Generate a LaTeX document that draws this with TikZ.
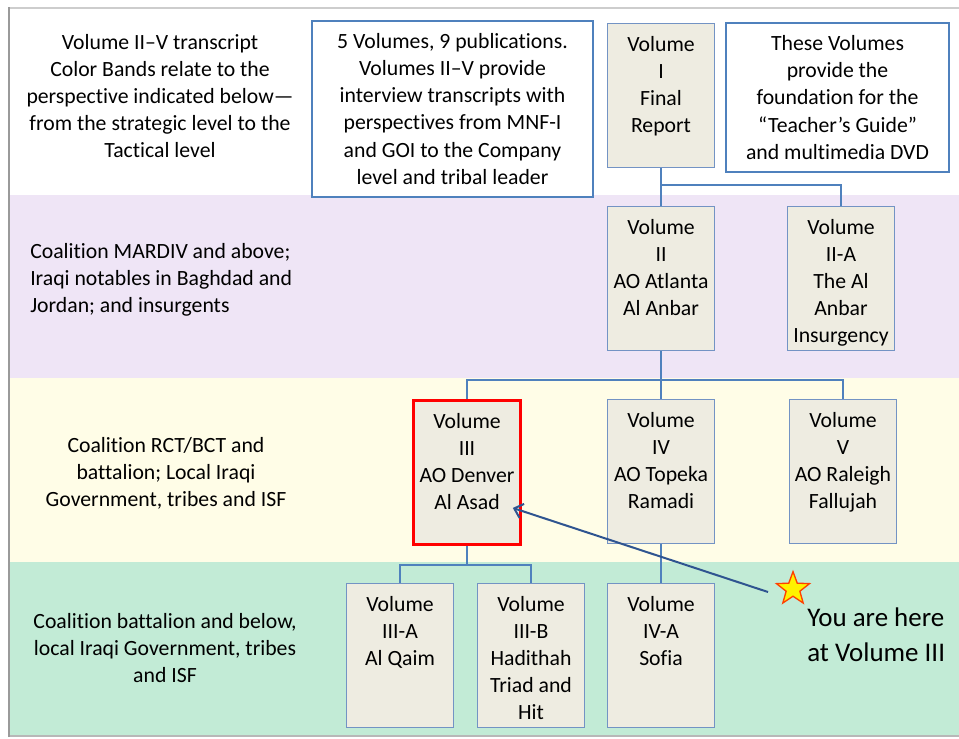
\documentclass[tikz,border=0pt]{standalone}
\usepackage{fontspec}
\setmainfont{Carlito}[Ligatures=NoCommon]
\usetikzlibrary{shapes.geometric,arrows.meta,calc}

\definecolor{bandlav}{HTML}{EFE5F6}
\definecolor{bandyel}{HTML}{FFFDE7}
\definecolor{bandgrn}{HTML}{C2EBD6}
\definecolor{boxfill}{HTML}{EEECE1}
\definecolor{boxline}{HTML}{7393C4}
\definecolor{noteline}{HTML}{4F81BD}
\definecolor{linkblue}{HTML}{4F81BD}
\definecolor{arrowblue}{HTML}{2F5490}
\definecolor{starred}{HTML}{FF4000}
\definecolor{framegray}{HTML}{9A9A9A}

% text of a volume box, starting at its top
\newcommand{\voltext}[1]{\parbox[t][108pt][t]{80pt}{\centering\rule{0pt}{21pt}#1}}

\begin{document}
\begin{tikzpicture}[x=0.75pt,y=-0.75pt,
  every node/.style={font=\fontsize{16.3pt}{20.3pt}\selectfont},
  vol/.style={draw=boxline,line width=1pt,fill=boxfill,inner sep=0pt,anchor=north},
  here/.style={vol,draw=red,line width=2.2pt},
  note/.style={draw=noteline,line width=1.6pt,fill=white,align=center,inner sep=0pt},
  band/.style={align=center,inner sep=0pt},
  link/.style={draw=linkblue,line width=1.5pt},
  pointer/.style={draw=arrowblue,line width=1.5pt,-{Straight Barb[length=6pt,width=11pt]}}]
\useasboundingbox (0,0) rectangle (959,738);
%\draw[help lines,step=50] (0,0) grid (959,738);

% colour bands
\fill[white] (9,8) rectangle (959,195);
\fill[bandlav] (9,195) rectangle (959,378);
\fill[bandyel] (9,378) rectangle (959,562);
\fill[bandgrn] (9,562) rectangle (959,736);
\draw[framegray!50,line width=0.8pt] (9,8) -- (959,8);
\draw[framegray!70,line width=0.8pt] (9,736) -- (959,736);
\draw[framegray,line width=1.8pt] (9,737) -- (9,7);

% key texts
\node[band] (key) at (160,96) {Volume II--V transcript\\Color Bands relate to the\\perspective indicated below---\\from the strategic level to the\\Tactical level};
\node[band,align=left,anchor=west] (lvl2) at (30,280) {Coalition MARDIV and above;\\Iraqi notables in Baghdad and\\Jordan; and insurgents};
\node[band] (lvl3) at (166,473) {Coalition RCT/BCT and\\battalion; Local Iraqi\\Government, tribes and ISF};
\node[band] (lvl4) at (165,648) {Coalition battalion and below,\\local Iraqi Government, tribes\\and ISF};

\node[note,minimum width=210.75pt,minimum height=132pt] (scope) at (452.5,109) {5 Volumes, 9 publications.\\Volumes II--V provide\\interview transcripts with\\perspectives from MNF-I\\and GOI to the Company\\level and tribal leader};
\node[note,minimum width=167pt,minimum height=111.75pt] (guide) at (837.5,97.5) {These Volumes\\provide the\\foundation for the\\``Teacher's Guide''\\and multimedia DVD};

% volumes
\node[vol] (vol1) at (661,23) {\voltext{Volume\\I\\Final\\Report}};
\node[vol] (vol2) at (661,206) {\voltext{Volume\\II\\AO Atlanta\\Al Anbar}};
\node[vol] (vol2a) at (841,206) {\voltext{Volume\\II-A\\The Al\\Anbar\\Insurgency}};
\node[here] (vol3) at (467,399) {\voltext{Volume\\III\\AO Denver\\Al Asad}};
\node[vol] (vol4) at (661,399) {\voltext{Volume\\IV\\AO Topeka\\Ramadi}};
\node[vol] (vol5) at (843,399) {\voltext{Volume\\V\\AO Raleigh\\Fallujah}};
\node[vol] (vol3a) at (400,583) {\voltext{Volume\\III-A\\Al Qaim}};
\node[vol] (vol3b) at (531,583) {\voltext{Volume\\III-B\\Hadithah\\Triad and\\Hit}};
\node[vol] (vol4a) at (661,583) {\voltext{Volume\\IV-A\\Sofia}};

\draw[link] (vol1.south) -- (vol2.north);
\draw[link] (vol1.south) -- ++(0,17) -| (vol2a.north);
\draw[link] (vol2.south) -- (vol4.north);
\draw[link] (vol2.south) -- ++(0,29) -| (vol3.north);
\draw[link] (vol2.south) -- ++(0,29) -| (vol5.north);
\draw[link] (vol3.south) -- ++(0,19) -| (vol3a.north);
\draw[link] (vol3.south) -- ++(0,19) -| (vol3b.north);
\draw[link] (vol4.south) -- (vol4a.north);

% you are here
\node[star,star points=5,star point ratio=2.4,fill=yellow,draw=starred,line width=1pt,minimum size=26pt,inner sep=0pt] (youstar) at (793,589) {};
\node[anchor=west,align=left,inner sep=0pt,font=\fontsize{20.2pt}{26.3pt}\selectfont] (youhere) at (807,635) {You are here\\at Volume III};
\coordinate (tail) at (768,592);
\draw[pointer] (tail) -- ($(vol3.south east)+(-9,-38)$);

\end{tikzpicture}
\end{document}
